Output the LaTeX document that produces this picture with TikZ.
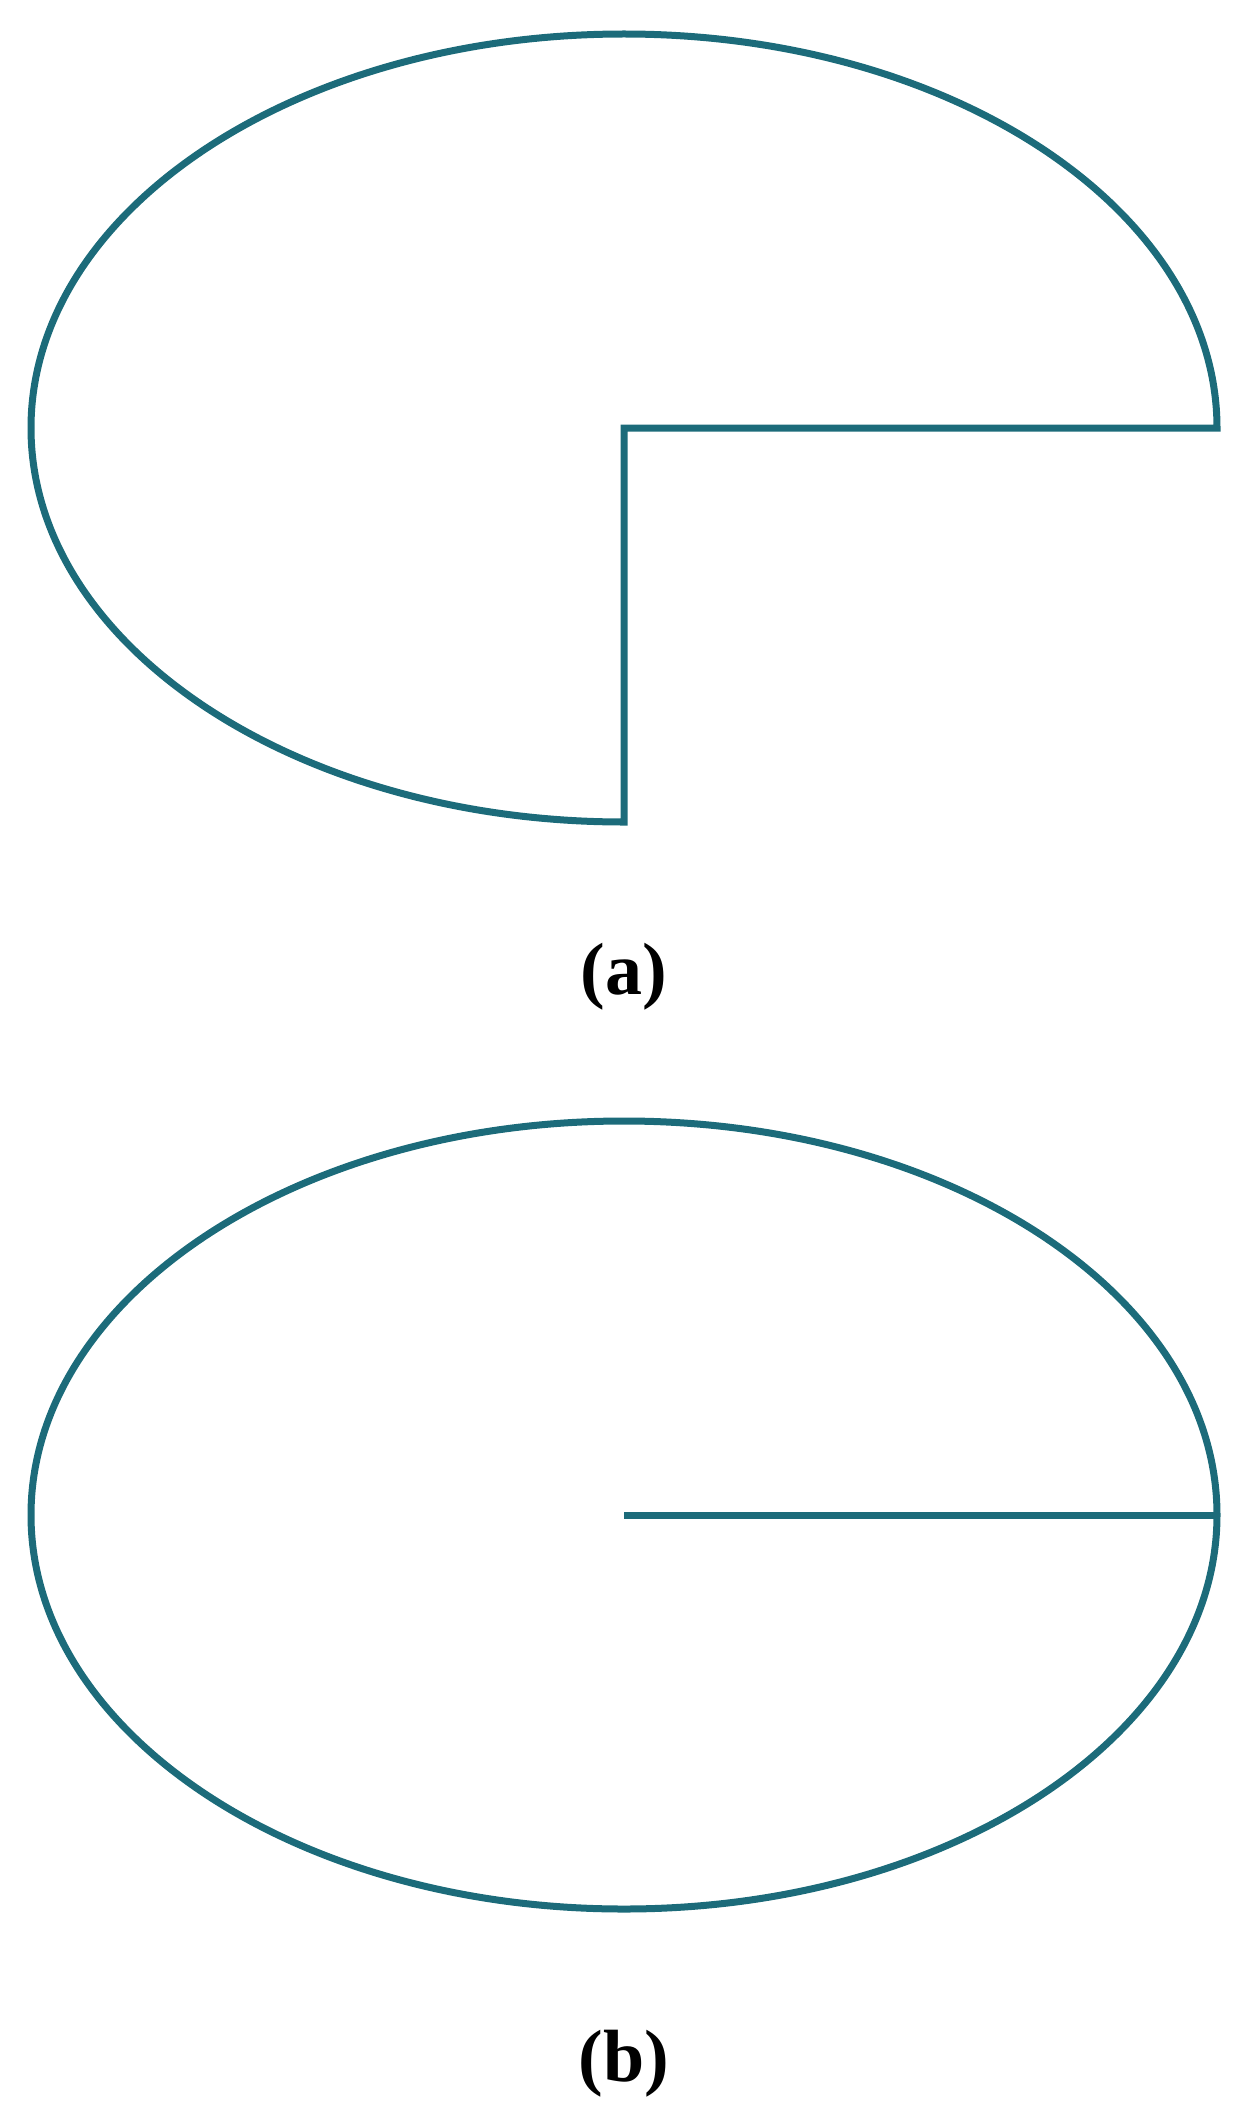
\documentclass[tikz,border=0pt]{standalone}
\usepackage{fontspec}
\setmainfont{Liberation Serif}
\usepackage{tikz}
\usepackage{xcolor}
\definecolor{tealline}{RGB}{28,107,122}

\begin{document}
\begin{tikzpicture}[
  x=0.5pt, y=0.5pt,
  outline/.style={draw=tealline, line width=3.5pt},
  caption/.style={font=\fontsize{37}{44}\selectfont\bfseries, inner sep=0pt},
]
  \useasboundingbox (0,0) rectangle (1244,-2119);

  % (a) three-quarter ellipse
  \coordinate (ca) at (624,-428);
  \coordinate (ea) at (1217,-428);
  \draw[outline] (ea) arc[start angle=0, end angle=270, x radius=296.5pt, y radius=197pt]
    -- (ca) -- cycle;
  \node[caption] (capa) at (624,-977) {(a)};

  % (b) full ellipse with radius
  \coordinate (cb) at (624,-1515);
  \coordinate (eb) at (1217,-1515);
  \draw[outline] (cb) ellipse[x radius=296.5pt, y radius=197pt];
  \draw[outline] (cb) -- (eb);
  \node[caption] (capb) at (624,-2064) {(b)};
\end{tikzpicture}
\end{document}
